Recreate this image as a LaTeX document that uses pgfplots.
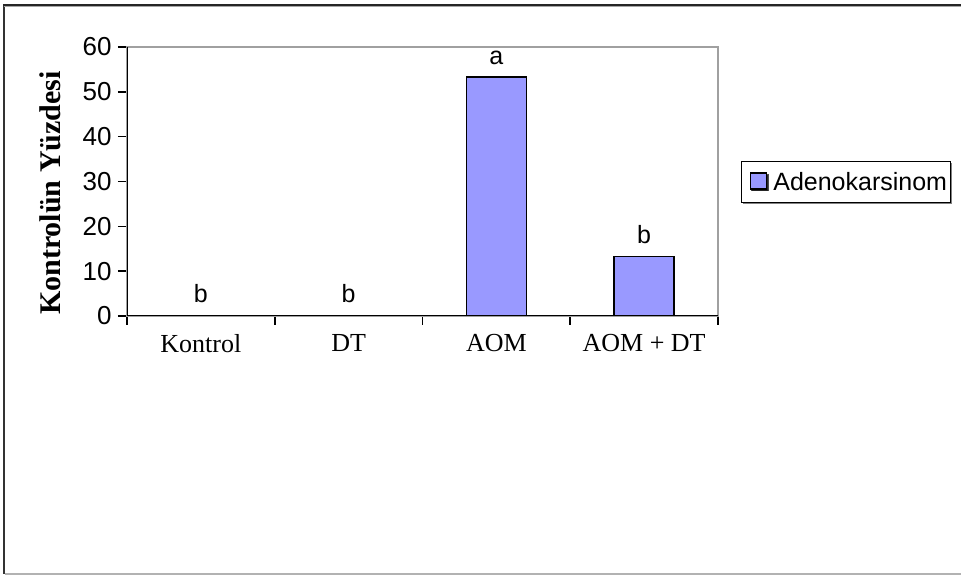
\documentclass[border=0pt]{standalone}
\usepackage{pgfplots}
\pgfplotsset{compat=1.18}
\usepackage{pgfplotstable}
\usetikzlibrary{shadows}
\usepackage{fontspec}
\setmainfont{Liberation Serif}
\newfontfamily\arialfont{Liberation Sans}
\definecolor{barblue}{HTML}{9999FF}
\definecolor{plotgray}{HTML}{A0A0A0}

% Adenokarsinom, percentage of control, with significance letters
\pgfplotstableread{
x  val   lab
0  0     b
1  0     b
2  53.3  a
3  13.3  b
}\adenodata

\begin{document}
\begin{tikzpicture}[x=1pt,y=1pt]
\useasboundingbox (0,0) rectangle (961,575);
% chart area frame
\draw[line width=2pt, black!80] (4,1) -- (4,570);
\draw[line width=2pt, black!85] (3,570) -- (961,570);
\draw[line width=1pt, black!35] (4,568.5) -- (961,568.5);
\draw[line width=1.5pt, black!30] (5,1) -- (961,1);
\begin{axis}[
  at={(127pt,259pt)}, anchor=south west,
  width=591pt, height=269pt, scale only axis,
  xmin=-0.5, xmax=3.5, ymin=0, ymax=60,
  axis line style={draw=plotgray, line width=1.6pt},
  tick align=outside,
  xtick pos=bottom, ytick pos=left,
  ytick={0,10,...,60},
  xtick={0,1,2,3},
  xticklabels={Kontrol, DT, AOM, AOM + DT},
  major x tick style={draw=none},
  minor xtick={-0.5,0.5,1.5,2.5,3.5},
  minor x tick style={black, line width=1.6pt},
  major y tick style={black, line width=1.6pt},
  major tick length=9pt, minor tick length=9pt,
  /pgf/number format/assume math mode=true,
  yticklabel style={font=\arialfont\fontsize{26}{26}\selectfont, xshift=-3pt},
  xticklabel style={font=\fontsize{26}{26}\selectfont, yshift=-6pt},
  ylabel={Kontrolün Yüzdesi},
  ylabel style={font=\bfseries\fontsize{30}{30}\selectfont,
    at={(axis description cs:-0.1303,0.457)}, anchor=center},
  ybar, bar width=60pt, bar shift=0pt,
  legend style={at={(1.2166,0.498)}, anchor=center, draw=black,
    line width=1pt, fill=white,
    font=\arialfont\fontsize{25}{25}\selectfont,
    inner xsep=1.5pt, inner ysep=9pt,
    drop shadow={shadow xshift=1.5pt, shadow yshift=-1.5pt, opacity=0.7, fill=black!70}},
  legend image code/.code={%
    \path (-7pt,0pt) (20pt,0pt);
    \draw[fill=barblue, draw=black, line width=1.2pt] (0pt,-7pt) rectangle (16pt,9pt);},
  nodes near coords,
  point meta=explicit symbolic,
  nodes near coords style={font=\arialfont\fontsize{25}{25}\selectfont,
    anchor=base, yshift=13pt, fill=white, inner xsep=5pt, inner ysep=2pt, text=black},
]
\addplot[fill=barblue, draw=black, line width=1.4pt]
  table[x=x, y=val, meta=lab] {\adenodata};
\addlegendentry{Adenokarsinom}
% black value and category axes over the gray plot-area border
\draw[black, line width=1.8pt] (rel axis cs:0,1) -- (rel axis cs:0,0) -- (rel axis cs:1,0);
\end{axis}
\end{tikzpicture}
\end{document}
